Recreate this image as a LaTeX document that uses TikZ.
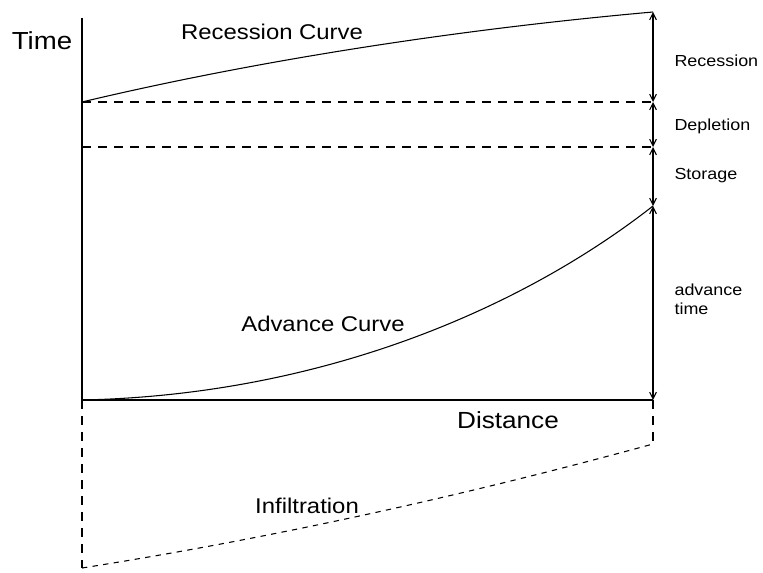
\documentclass[tikz,border=0pt]{standalone}
\usepackage{fontspec}
\setmainfont{Liberation Sans}[FakeStretch=1.12]
\usepackage{tikz}
\usetikzlibrary{arrows.meta}

\begin{document}
\begin{tikzpicture}[x=0.75pt, y=-0.75pt, line width=0.8pt, >={Straight Barb[length=5pt,width=5pt]}]
  \tikzset{gap/.style={dashed, dash pattern=on 7pt off 5pt},infdash/.style={dash pattern=on 4pt off 4pt},sidelbl/.style={anchor=west, align=left, font=\fontsize{12}{14}\selectfont, inner sep=0pt},curvelbl/.style={font=\fontsize{16}{19}\selectfont, inner sep=0pt},axislbl/.style={font=\fontsize{18.5}{21}\selectfont, inner sep=0pt}}
  \useasboundingbox (0,0) rectangle (763,573);
  \coordinate (origin) at (82,400);
  \coordinate (ttop) at (82,18);
  \coordinate (dend) at (653,400);
  \coordinate (rtop) at (653,12);
  \coordinate (rdep) at (653,102);
  \coordinate (rsto) at (653,147);
  \coordinate (radv) at (653,206);
  \coordinate (ldep) at (82,102);
  \coordinate (lsto) at (82,147);
  \coordinate (lbot) at (82,568);
  \coordinate (rinf) at (653,444);
  \draw (ttop) -- (origin) -- (dend);
  \draw (ldep) .. controls (250,62) and (450,30) .. (rtop);
  \draw (origin) .. controls (320,395) and (520,310) .. (radv);
  \draw[gap] (ldep) -- (rdep);
  \draw[gap] (lsto) -- (rsto);
  \draw[<->] (rtop) -- (rdep);
  \draw[<->] (rdep) -- (rsto);
  \draw[<->] (rsto) -- (radv);
  \draw[<->] (radv) -- (dend);
  \draw[gap] (origin) -- (lbot);
  \draw[gap] (dend) -- (rinf);
  \draw[infdash] (lbot) .. controls (272,538) and (463,496) .. (rinf);
  \node[axislbl] (time) at (42,41) {Time};
  \node[curvelbl] (rcurve) at (272,32) {Recession Curve};
  \node[sidelbl] (recess) at (674,61) {Recession};
  \node[sidelbl] (deplet) at (674,126) {Depletion};
  \node[sidelbl] (store) at (674,176) {Storage};
  \node[sidelbl] (advtime) at (674,299) {advance\\time};
  \node[curvelbl] (acurve) at (323,324) {Advance Curve};
  \node[axislbl, font=\fontsize{17.5}{21}\selectfont] (dist) at (508,420) {Distance};
  \node[curvelbl] (infil) at (307,506) {Infiltration};
\end{tikzpicture}
\end{document}
